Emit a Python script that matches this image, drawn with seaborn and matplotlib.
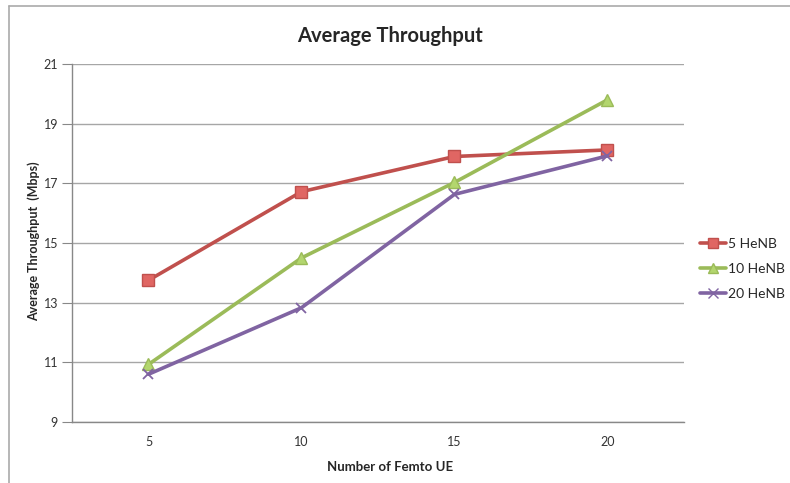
import matplotlib
matplotlib.use("Agg")
import matplotlib.pyplot as plt
import seaborn as sns
import pandas as pd
from matplotlib.lines import Line2D

# datos
femto_ue = ["5", "10", "15", "20"]
henb_5 = [13.75, 16.72, 17.9, 18.12]
henb_10 = [10.93, 14.5, 17.03, 19.8]
henb_20 = [10.6, 12.83, 16.63, 17.92]
y_ticks = [9, 11, 13, 15, 17, 19, 21]

series = {"5 HeNB": henb_5, "10 HeNB": henb_10, "20 HeNB": henb_20}
colors = {"5 HeNB": "#C0504D", "10 HeNB": "#9BBB59", "20 HeNB": "#8064A2"}
faces = {"5 HeNB": "#E06663", "10 HeNB": "#B3D66E", "20 HeNB": "#8064A2"}
markers = {"5 HeNB": "s", "10 HeNB": "^", "20 HeNB": "x"}

rows = []
for name, vals in series.items():
    for i, v in enumerate(vals):
        rows.append({"pos": i, "ue": femto_ue[i], "serie": name, "thr": v})
df = pd.DataFrame(rows)

sns.set_style("white")
plt.rcParams["font.family"] = ["Lato", "DejaVu Sans"]

fig = plt.figure(figsize=(7.9, 4.83), dpi=100)
ax = fig.add_axes([0.0911, 0.1263, 0.7747, 0.7412])

for name in series:
    sub = df[df["serie"] == name]
    sns.lineplot(data=sub, x="pos", y="thr", ax=ax, color=colors[name],
                 linewidth=2.6, marker=markers[name], markersize=8 if name != "20 HeNB" else 7,
                 markerfacecolor=faces[name], markeredgecolor=colors[name],
                 markeredgewidth=1 if name != "20 HeNB" else 1.3, label=name, legend=False)

ax.set_xlim(-0.5, 3.5)
ax.set_ylim(9, 21)
ax.set_yticks(y_ticks)
ax.set_yticklabels([str(t) for t in y_ticks], fontsize=9, color="#333333")
ax.set_xticks(range(len(femto_ue)))
ax.set_xticklabels(femto_ue, fontsize=9, color="#333333")
ax.set_xticks([-0.5, 0.5, 1.5, 2.5, 3.5], minor=True)
ax.tick_params(axis="x", which="major", length=0, pad=10)
ax.tick_params(axis="x", which="minor", length=4, color="#888888", direction="out")
ax.tick_params(axis="y", length=7, color="#888888", direction="out", left=True, pad=3)
ax.yaxis.grid(True, color="#A6A6A6", linewidth=1)
ax.xaxis.grid(False)
for s in ["top", "right"]:
    ax.spines[s].set_visible(False)
for s in ["left", "bottom"]:
    ax.spines[s].set_color("#888888")
    ax.spines[s].set_linewidth(1)

ax.set_xlabel("")
ax.set_ylabel("")
fig.text(0.494, 0.926, "Average Throughput", ha="center", va="center",
         fontsize=14.5, fontweight="bold")
fig.text(0.043, 0.50, "Average Throughput  (Mbps)", ha="center", va="center",
         rotation=90, fontsize=9, fontweight="bold")
fig.text(0.494, 0.033, "Number of Femto UE", ha="center", va="center",
         fontsize=9.5, fontweight="bold")

handles = [Line2D([0], [0], color=colors[n], lw=2.6, marker=markers[n], markersize=7,
                  markerfacecolor=faces[n], markeredgecolor=colors[n]) for n in series]
fig.legend(handles, list(series.keys()), loc="center left", bbox_to_anchor=(0.886, 0.443),
           frameon=False, fontsize=10, handlelength=1.9, handletextpad=0.15,
           labelspacing=0.95, borderpad=0.0, borderaxespad=0.0)

# marco del grafico (arriba e izquierda)
fig.add_artist(Line2D([0.011, 1.0], [0.988, 0.988], color="#AAAAAA", lw=1.2))
fig.add_artist(Line2D([0.011, 0.011], [0.0, 0.988], color="#AAAAAA", lw=1.2))

plt.savefig("out.png", dpi=100)
